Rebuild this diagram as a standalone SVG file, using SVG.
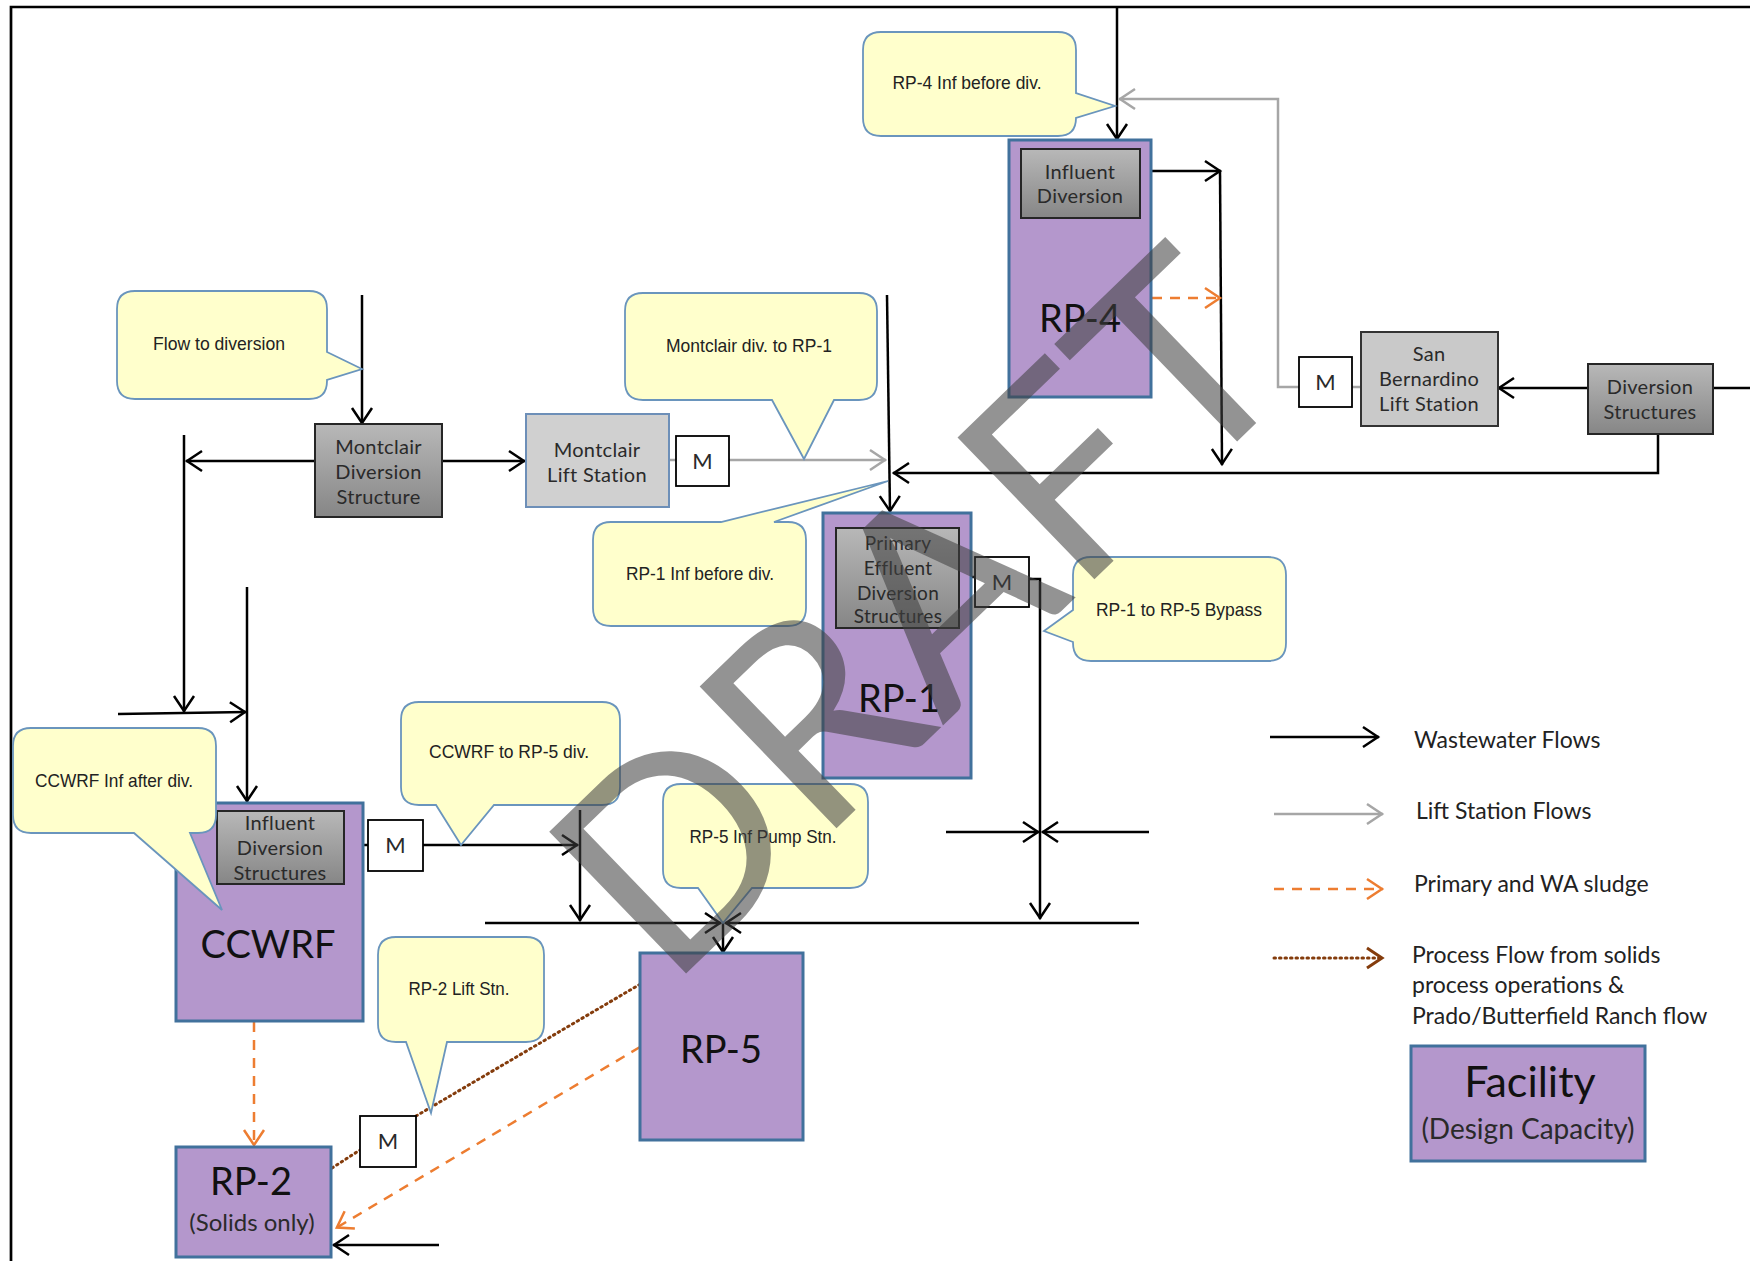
<svg xmlns="http://www.w3.org/2000/svg" width="1750" height="1261" viewBox="0 0 1750 1261">
<style>
.ln{fill:none;stroke:#000;stroke-width:2.5}
.gl{fill:none;stroke:#a6a6a6;stroke-width:2.5}
.ol{fill:none;stroke:#ed7d31;stroke-width:2.5;stroke-dasharray:10 8}
.bl{fill:none;stroke:#843c0c;stroke-width:3;stroke-dasharray:1.5 4;stroke-linecap:round}
.fac{fill:#b497cc;stroke:#41719c;stroke-width:3}
.dg{fill:url(#grad);stroke:#262626;stroke-width:2}
.lg{fill:#c9c9c9;stroke:#333;stroke-width:2}
.mb{fill:#fff;stroke:#000;stroke-width:1.8}
.co{fill:#ffffcc;stroke:#6a95bd;stroke-width:1.8}
.nt{font-family:Lato,"Noto Sans",sans-serif;font-size:20px;letter-spacing:0.3px;fill:#2a2a2a;text-anchor:middle}
.mt{font-family:Lato,"Noto Sans",sans-serif;font-size:22px;fill:#2a2a2a;text-anchor:middle}
.big{font-family:Lato,"Noto Sans",sans-serif;font-size:38px;fill:#111;text-anchor:middle}
.ct{font-family:"Liberation Sans",Arial,sans-serif;font-size:19px;fill:#222}
.leg{font-family:Lato,"Noto Sans",sans-serif;font-size:23px;fill:#222}
</style>
<defs>
<linearGradient id="grad" x1="0" y1="0" x2="0" y2="1">
<stop offset="0" stop-color="#b8b8b8"/>
<stop offset="1" stop-color="#868686"/>
</linearGradient>
<marker id="ab" markerUnits="userSpaceOnUse" markerWidth="30" markerHeight="30" viewBox="-20 -15 30 30" refX="0" refY="0" orient="auto" overflow="visible"><path d="M-16,-10 L-1,0 L-16,10" fill="none" stroke="#000" stroke-width="2.5"/></marker>
<marker id="ag" markerUnits="userSpaceOnUse" markerWidth="30" markerHeight="30" viewBox="-20 -15 30 30" refX="0" refY="0" orient="auto" overflow="visible"><path d="M-16,-10 L-1,0 L-16,10" fill="none" stroke="#a6a6a6" stroke-width="2.5"/></marker>
<marker id="ao" markerUnits="userSpaceOnUse" markerWidth="30" markerHeight="30" viewBox="-20 -15 30 30" refX="0" refY="0" orient="auto" overflow="visible"><path d="M-16,-10 L-1,0 L-16,10" fill="none" stroke="#ed7d31" stroke-width="2.5"/></marker>
<marker id="abr" markerUnits="userSpaceOnUse" markerWidth="30" markerHeight="30" viewBox="-20 -15 30 30" refX="0" refY="0" orient="auto" overflow="visible"><path d="M-16,-10 L-1,0 L-16,10" fill="none" stroke="#843c0c" stroke-width="3"/></marker>
</defs>
<rect width="1750" height="1261" fill="#fff"/>
<path d="M11,1261 V7 H1750" fill="none" stroke="#000" stroke-width="2.7"/>

<g id="connectors">
<path class="ln" d="M1117,7 V140" marker-end="url(#ab)"/>
<path class="ln" d="M1140,171 H1221" marker-end="url(#ab)"/>
<path class="ln" d="M1220,171 L1222,465" marker-end="url(#ab)"/>
<path class="ln" d="M1588,388 H1498" marker-end="url(#ab)"/>
<path class="ln" d="M1713,388 H1750"/>
<path class="ln" d="M1658,434 V473 H893" marker-end="url(#ab)"/>
<path class="ln" d="M887,295 L890,512" marker-end="url(#ab)"/>
<path class="ln" d="M362,295 V424" marker-end="url(#ab)"/>
<path class="ln" d="M315,461 H186" marker-end="url(#ab)"/>
<path class="ln" d="M184,435 V712" marker-end="url(#ab)"/>
<path class="ln" d="M442,461 H525" marker-end="url(#ab)"/>
<path class="ln" d="M247,587 V802" marker-end="url(#ab)"/>
<path class="ln" d="M118,714 L246,712" marker-end="url(#ab)"/>
<path class="ln" d="M344,845 H368"/>
<path class="ln" d="M423,845 H578" marker-end="url(#ab)"/>
<path class="ln" d="M580,810 V921" marker-end="url(#ab)"/>
<path class="ln" d="M485,923 H721" marker-end="url(#ab)"/>
<path class="ln" d="M1139,923 H725" marker-end="url(#ab)"/>
<path class="ln" d="M723,923 V953" marker-end="url(#ab)"/>
<path class="ln" d="M959,577 H975"/>
<path class="ln" d="M1029,579 H1040 V919" marker-end="url(#ab)"/>
<path class="ln" d="M946,832 H1039" marker-end="url(#ab)"/>
<path class="ln" d="M1149,832 H1042" marker-end="url(#ab)"/>
<path class="ln" d="M439,1245 H333" marker-end="url(#ab)"/>
<path class="gl" d="M669,460 H676"/>
<path class="gl" d="M729,460 H886" marker-end="url(#ag)"/>
<path class="gl" d="M1361,387 H1352"/>
<path class="gl" d="M1299,387 H1278 V99 H1119" marker-end="url(#ag)"/>
<path class="ol" d="M1152,298 H1221" marker-end="url(#ao)"/>
<path class="ol" d="M254,1022 V1146" marker-end="url(#ao)"/>
<path class="ol" d="M640,1047 L336,1228" marker-end="url(#ao)"/>
<path class="bl" d="M332,1168 L360,1150"/>
<path class="bl" d="M416,1116 L671,966" marker-end="url(#abr)"/>
</g>

<g id="rp4">
<rect class="fac" x="1009" y="140" width="142" height="257"/>
<text class="big" x="1080" y="332">RP-4</text>
</g>
<g id="rp4-influent-diversion">
<rect class="dg" x="1021" y="149" width="119" height="69"/>
<text class="nt" x="1080" y="179">Influent</text>
<text class="nt" x="1080" y="203">Diversion</text>
</g>
<g id="m-sb">
<rect class="mb" x="1299" y="357" width="53" height="50"/>
<text class="mt" x="1325.5" y="390">M</text>
</g>
<g id="san-bernardino">
<rect class="lg" x="1361" y="332" width="137" height="94"/>
<text class="nt" x="1429" y="361">San</text>
<text class="nt" x="1429" y="386">Bernardino</text>
<text class="nt" x="1429" y="411">Lift Station</text>
</g>
<g id="diversion-structures">
<rect class="dg" x="1588" y="364" width="125" height="70"/>
<text class="nt" x="1650" y="394">Diversion</text>
<text class="nt" x="1650" y="419">Structures</text>
</g>
<g id="montclair-diversion">
<rect class="dg" x="315" y="424" width="127" height="93"/>
<text class="nt" x="378.5" y="454">Montclair</text>
<text class="nt" x="378.5" y="479">Diversion</text>
<text class="nt" x="378.5" y="504">Structure</text>
</g>
<g id="montclair-lift">
<rect x="526" y="414" width="143" height="93" fill="#d0d0d0" stroke="#6d8fb8" stroke-width="2"/>
<text class="nt" x="597" y="457">Montclair</text>
<text class="nt" x="597" y="482">Lift Station</text>
</g>
<g id="m-montclair">
<rect class="mb" x="676" y="436" width="53" height="50"/>
<text class="mt" x="702.5" y="469">M</text>
</g>
<g id="rp1">
<rect class="fac" x="823" y="513" width="148" height="265"/>
<text class="big" x="899" y="712">RP-1</text>
</g>
<g id="primary-effluent">
<rect class="dg" x="836" y="528" width="123" height="100"/>
<text class="nt" x="898" y="550" style="font-size:19px">Primary</text>
<text class="nt" x="898" y="575" style="font-size:19px">Effluent</text>
<text class="nt" x="898" y="600" style="font-size:19px">Diversion</text>
<text class="nt" x="898" y="623" style="font-size:19px">Structures</text>
</g>
<g id="m-rp1">
<rect class="mb" x="975" y="557" width="54" height="50"/>
<text class="mt" x="1002" y="590">M</text>
</g>
<g id="ccwrf">
<rect class="fac" x="176" y="803" width="187" height="218"/>
<text class="big" x="268" y="958">CCWRF</text>
</g>
<g id="ccwrf-influent">
<rect class="dg" x="217" y="811" width="127" height="73"/>
<text class="nt" x="280" y="830">Influent</text>
<text class="nt" x="280" y="855">Diversion</text>
<text class="nt" x="280" y="880">Structures</text>
</g>
<g id="m-ccwrf">
<rect class="mb" x="368" y="820" width="55" height="51"/>
<text class="mt" x="395.5" y="853">M</text>
</g>
<g id="rp5">
<rect class="fac" x="640" y="953" width="163" height="187"/>
<text class="big" x="721" y="1063">RP-5</text>
</g>
<g id="rp2">
<rect class="fac" x="176" y="1147" width="155" height="110"/>
<text class="big" x="251" y="1195">RP-2</text>
<text class="nt" x="252" y="1231" style="font-size:24px;letter-spacing:0">(Solids only)</text>
</g>
<g id="m-rp2">
<rect class="mb" x="360" y="1116" width="56" height="51"/>
<text class="mt" x="388" y="1149">M</text>
</g>

<g id="callouts">
<path class="co" d="M135,291 H309 Q327,291 327,309 V352 L362,369 L327,380 V381 Q327,399 309,399 H135 Q117,399 117,381 V309 Q117,291 135,291 Z"/>
<text class="ct" x="153" y="350" textLength="132" lengthAdjust="spacingAndGlyphs">Flow to diversion</text>
<path class="co" d="M881,32 H1058 Q1076,32 1076,50 V93 L1115,106 L1076,118 Q1076,136 1058,136 H881 Q863,136 863,118 V50 Q863,32 881,32 Z"/>
<text class="ct" x="892.5" y="89" textLength="149" lengthAdjust="spacingAndGlyphs">RP-4 Inf before div.</text>
<path class="co" d="M643,293 H859 Q877,293 877,311 V382 Q877,400 859,400 H834 L804,459 L772,400 H643 Q625,400 625,382 V311 Q625,293 643,293 Z"/>
<text class="ct" x="666" y="352" textLength="166" lengthAdjust="spacingAndGlyphs">Montclair div. to RP-1</text>
<path class="co" d="M611,522 H721 L888,481 L774,522 H788 Q806,522 806,540 V608 Q806,626 788,626 H611 Q593,626 593,608 V540 Q593,522 611,522 Z"/>
<text class="ct" x="626" y="580" textLength="148" lengthAdjust="spacingAndGlyphs">RP-1 Inf before div.</text>
<path class="co" d="M1091,557 H1268 Q1286,557 1286,575 V643 Q1286,661 1268,661 H1091 Q1073,661 1073,643 V642 L1044,631 L1073,610 V575 Q1073,557 1091,557 Z"/>
<text class="ct" x="1096" y="616" textLength="166" lengthAdjust="spacingAndGlyphs">RP-1 to RP-5 Bypass</text>
<path class="co" d="M31,728 H198 Q216,728 216,746 V815 Q216,833 198,833 H190 L222,910 L134,833 H31 Q13,833 13,815 V746 Q13,728 31,728 Z"/>
<text class="ct" x="35" y="787" textLength="158" lengthAdjust="spacingAndGlyphs">CCWRF Inf after div.</text>
<path class="co" d="M419,702 H602 Q620,702 620,720 V787 Q620,805 602,805 H494 L461,845 L436,805 H419 Q401,805 401,787 V720 Q401,702 419,702 Z"/>
<text class="ct" x="429" y="758" textLength="160" lengthAdjust="spacingAndGlyphs">CCWRF to RP-5 div.</text>
<path class="co" d="M681,784 H850 Q868,784 868,802 V870 Q868,888 850,888 H752 L723,923 L698,888 H681 Q663,888 663,870 V802 Q663,784 681,784 Z"/>
<text class="ct" x="689.5" y="843" textLength="147" lengthAdjust="spacingAndGlyphs">RP-5 Inf Pump Stn.</text>
<path class="co" d="M396,937 H526 Q544,937 544,955 V1024 Q544,1042 526,1042 H447 L431,1113 L406,1042 H396 Q378,1042 378,1024 V955 Q378,937 396,937 Z"/>
<text class="ct" x="408.5" y="995" textLength="101" lengthAdjust="spacingAndGlyphs">RP-2 Lift Stn.</text>
</g>

<g id="legend">
<path class="ln" d="M1270,737 H1379" marker-end="url(#ab)"/>
<text class="leg" x="1414" y="748">Wastewater Flows</text>
<path class="gl" d="M1274,814 H1383" marker-end="url(#ag)"/>
<text class="leg" x="1416" y="819">Lift Station Flows</text>
<path class="ol" d="M1274,889 H1383" marker-end="url(#ao)"/>
<text class="leg" x="1414" y="892">Primary and WA sludge</text>
<path class="bl" d="M1274,958 H1383" marker-end="url(#abr)"/>
<text class="leg" x="1412" y="963">Process Flow from solids</text>
<text class="leg" x="1412" y="993">process operations &amp;</text>
<text class="leg" x="1412" y="1024">Prado/Butterfield Ranch flow</text>
<g id="legend-facility">
<rect class="fac" x="1411" y="1046" width="234" height="115"/>
<text class="big" x="1530" y="1097" style="font-size:43px">Facility</text>
<text class="nt" x="1528" y="1139" style="font-size:28px;letter-spacing:0">(Design Capacity)</text>
</g>
</g>

<g id="watermark" opacity="0.56">
<text transform="translate(668,991) rotate(-44)" font-family="Lato,'Noto Sans',sans-serif" font-size="275" fill="#404040">DRAFT</text>
</g>
</svg>
